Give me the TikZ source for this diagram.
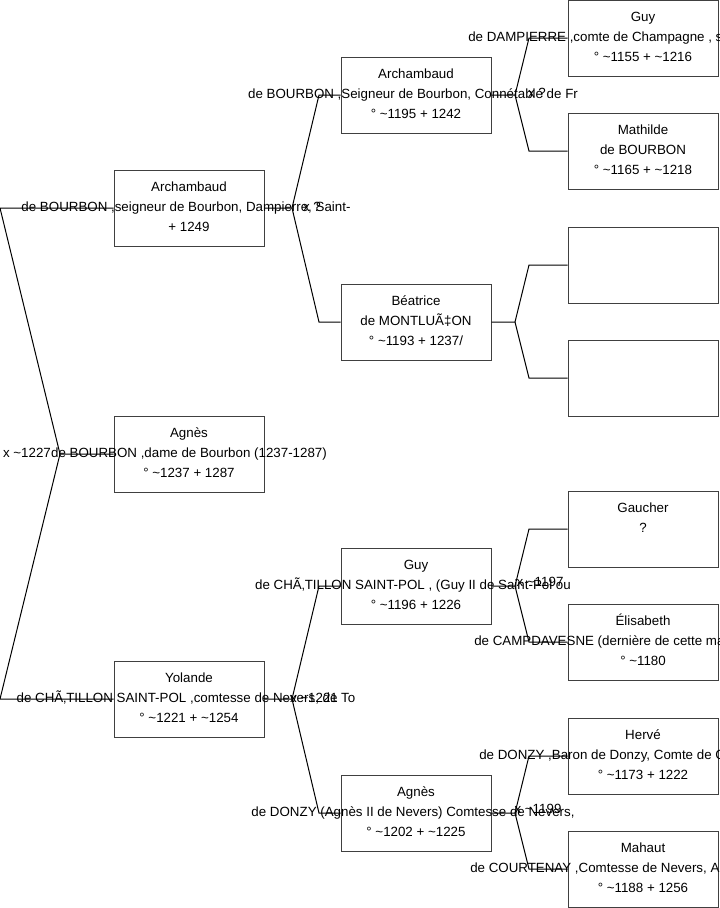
\documentclass[tikz,border=0pt]{standalone}
\usepackage{fontspec}
\setmainfont{Liberation Sans}
\begin{document}
\begin{tikzpicture}[x=0.75pt,y=-0.75pt,
  box/.style={draw=black!75, line width=0.75pt, minimum width=112.5pt, minimum height=57pt, inner sep=0pt},
  lbl/.style={font=\fontsize{10}{12}\selectfont, inner sep=0pt, anchor=base},
  lleft/.style={lbl, anchor=base west},
  link/.style={draw=black, line width=0.75pt}]
\useasboundingbox (0,0) rectangle (719,908);
\fill[white] (0,0) rectangle (719,908);

% boxes
\node[box] (a1) at (189,208) {};
\node[box] (r0) at (189,454) {};
\node[box] (y1) at (189,699) {};
\node[box] (a2) at (416,95) {};
\node[box] (b2) at (416,322) {};
\node[box] (g2) at (416,586) {};
\node[box] (n2) at (416,813) {};
\node[box] (g3) at (643,38) {};
\node[box] (m3) at (643,151) {};
\node[box] (e3a) at (643,265) {};
\node[box] (e3b) at (643,378) {};
\node[box] (ga3) at (643,529) {};
\node[box] (el3) at (643,642) {};
\node[box] (h3) at (643,756) {};
\node[box] (ma3) at (643,869) {};

% texts, generation 1
\node[lbl] (t_a1a) at (189,191) {Archambaud};
\node[lbl] (t_a1b) at (186,211) {de BOURBON ,seigneur de Bourbon, Dampierre, Saint-};
\node[lbl] (t_a1c) at (189,231) {+ 1249};
\node[lbl] (t_r0a) at (189,437) {Agnès};
\node[lbl] (t_r0b) at (189,457) {de BOURBON ,dame de Bourbon (1237-1287)};
\node[lbl] (t_r0c) at (189,477) {° \textasciitilde1237 + 1287};
\node[lbl] (t_y1a) at (189,682) {Yolande};
\node[lbl] (t_y1b) at (186,702) {de CHÃ‚TILLON SAINT-POL ,comtesse de Nevers, de To};
\node[lbl] (t_y1c) at (189,722) {° \textasciitilde1221 + \textasciitilde1254};

% texts, generation 2
\node[lbl] (t_a2a) at (416,78) {Archambaud};
\node[lbl] (t_a2b) at (413,98) {de BOURBON ,Seigneur de Bourbon, Connétable de Fr};
\node[lbl] (t_a2c) at (416,118) {° \textasciitilde1195 + 1242};
\node[lbl] (t_b2a) at (416,305) {Béatrice};
\node[lbl] (t_b2b) at (416,325) {de MONTLUÃ‡ON};
\node[lbl] (t_b2c) at (416,345) {° \textasciitilde1193 + 1237/};
\node[lbl] (t_g2a) at (416,569) {Guy};
\node[lbl] (t_g2b) at (413,589) {de CHÃ‚TILLON SAINT-POL , (Guy II de Saint-Pol ou};
\node[lbl] (t_g2c) at (416,609) {° \textasciitilde1196 + 1226};
\node[lbl] (t_n2a) at (416,796) {Agnès};
\node[lbl] (t_n2b) at (413,816) {de DONZY (Agnès II de Nevers) Comtesse de Nevers,};
\node[lbl] (t_n2c) at (416,836) {° \textasciitilde1202 + \textasciitilde1225};

% texts, generation 3
\node[lbl] (t_g3a) at (643,21) {Guy};
\node[lleft] (t_g3b) at (468,41) {de DAMPIERRE ,comte de Champagne , s};
\node[lbl] (t_g3c) at (643,61) {° \textasciitilde1155 + \textasciitilde1216};
\node[lbl] (t_m3a) at (643,134) {Mathilde};
\node[lbl] (t_m3b) at (643,154) {de BOURBON};
\node[lbl] (t_m3c) at (643,174) {° \textasciitilde1165 + \textasciitilde1218};
\node[lbl] (t_ga3a) at (643,512) {Gaucher};
\node[lbl] (t_ga3b) at (643,532) {?};
\node[lbl] (t_el3a) at (643,625) {Élisabeth};
\node[lleft] (t_el3b) at (474,645) {de CAMPDAVESNE (dernière de cette ma};
\node[lbl] (t_el3c) at (643,665) {° \textasciitilde1180};
\node[lbl] (t_h3a) at (643,739) {Hervé};
\node[lleft] (t_h3b) at (479,759) {de DONZY ,Baron de Donzy, Comte de C};
\node[lbl] (t_h3c) at (643,779) {° \textasciitilde1173 + 1222};
\node[lbl] (t_ma3a) at (643,852) {Mahaut};
\node[lleft] (t_ma3b) at (470,872) {de COURTENAY ,Comtesse de Nevers, A};
\node[lbl] (t_ma3c) at (643,892) {° \textasciitilde1188 + 1256};

% marriage labels
\node[lbl] (x0) at (27,457) {x \textasciitilde1227};
\node[lbl] (x1) at (312,211) {x ?};
\node[lbl] (x2) at (314,702) {x \textasciitilde1221};
\node[lbl] (x3) at (537,97) {x ?};
\node[lbl] (x4) at (540,586) {x \textasciitilde1197};
\node[lbl] (x5) at (538,813) {x \textasciitilde1199};

% junction points
\coordinate (j0) at (60,454);
\coordinate (c0a) at (0,208);
\coordinate (c0b) at (0,699);
\coordinate (j1) at (292,208);
\coordinate (c1a) at (319,95);
\coordinate (c1b) at (319,322);
\coordinate (j2) at (292,699);
\coordinate (c2a) at (319,586);
\coordinate (c2b) at (319,813);
\coordinate (j3) at (515,95);
\coordinate (c3a) at (529,38);
\coordinate (c3b) at (529,151);
\coordinate (j4) at (515,322);
\coordinate (c4a) at (529,265);
\coordinate (c4b) at (529,378);
\coordinate (j5) at (515,586);
\coordinate (c5a) at (529,529);
\coordinate (c5b) at (529,642);
\coordinate (j6) at (515,813);
\coordinate (c6a) at (529,756);
\coordinate (c6b) at (529,869);

% connectors
\draw[link] (r0.west) -- (j0) -- (c0a) -- (a1.west);
\draw[link] (j0) -- (c0b) -- (y1.west);
\draw[link] (a1.east) -- (j1) -- (c1a) -- (a2.west);
\draw[link] (j1) -- (c1b) -- (b2.west);
\draw[link] (y1.east) -- (j2) -- (c2a) -- (g2.west);
\draw[link] (j2) -- (c2b) -- (n2.west);
\draw[link] (a2.east) -- (j3) -- (c3a) -- (g3.west);
\draw[link] (j3) -- (c3b) -- (m3.west);
\draw[link] (b2.east) -- (j4) -- (c4a) -- (e3a.west);
\draw[link] (j4) -- (c4b) -- (e3b.west);
\draw[link] (g2.east) -- (j5) -- (c5a) -- (ga3.west);
\draw[link] (j5) -- (c5b) -- (el3.west);
\draw[link] (n2.east) -- (j6) -- (c6a) -- (h3.west);
\draw[link] (j6) -- (c6b) -- (ma3.west);
\end{tikzpicture}
\end{document}
